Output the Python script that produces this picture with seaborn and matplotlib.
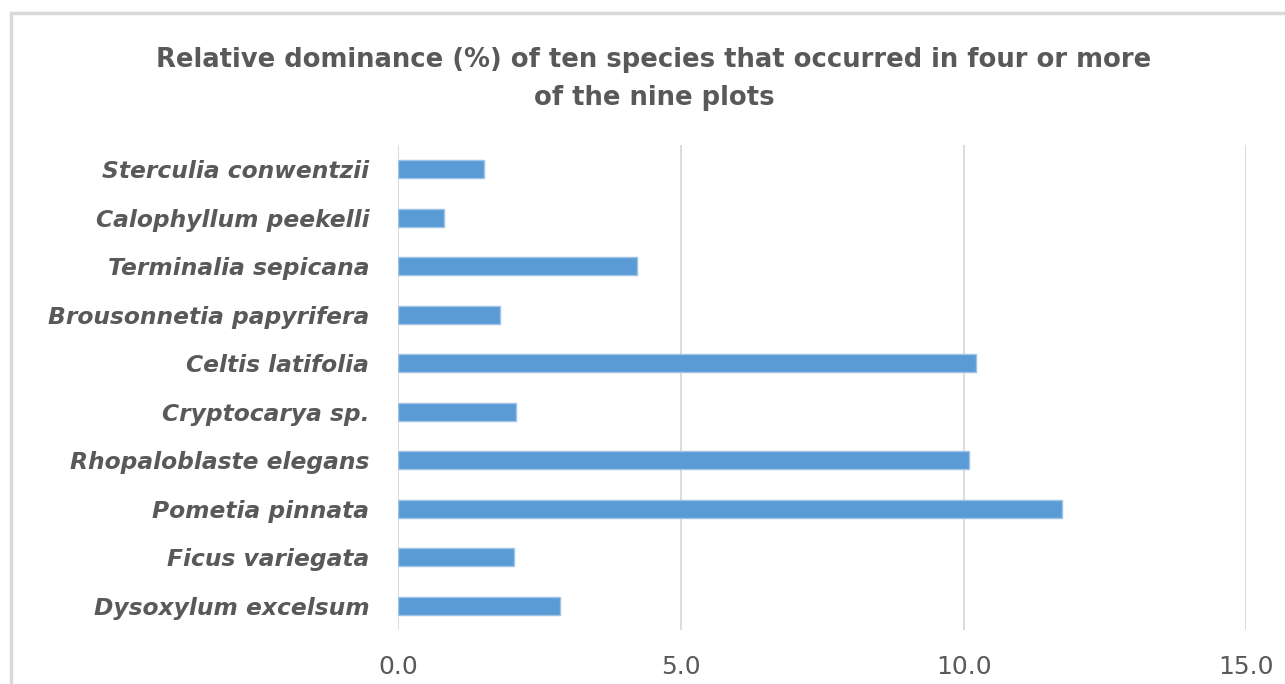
import numpy as np
import pandas as pd
import matplotlib
matplotlib.use("Agg")
import matplotlib.pyplot as plt
from matplotlib.patches import Rectangle
import seaborn as sns

# species listed top to bottom as in the chart
species = ["Sterculia conwentzii", "Calophyllum peekelli", "Terminalia sepicana",
           "Brousonnetia papyrifera", "Celtis latifolia", "Cryptocarya sp.",
           "Rhopaloblaste elegans", "Pometia pinnata", "Ficus variegata",
           "Dysoxylum excelsum"]
dominance = [1.52, 0.81, 4.22, 1.80, 10.21, 2.08, 10.09, 11.73, 2.05, 2.86]
xticks = [0.0, 5.0, 10.0, 15.0]

df = pd.DataFrame({"species": species, "dominance": dominance})

sns.set_style("white")
plt.rcParams['font.family'] = ['DejaVu Sans']

fig = plt.figure(figsize=(12.85, 6.84), dpi=100)
ax = fig.add_axes([0.310, 0.079, 0.660, 0.709])

sns.barplot(data=df, x="dominance", y="species", orient="h", color="#5B9BD5",
            width=0.37, edgecolor="#9DC3E6", linewidth=1, saturation=1, ax=ax)

ax.set_xlim(0, 15)
ax.set_xticks(xticks)
ax.set_xticklabels([f"{t:.1f}" for t in xticks], fontsize=18, color="#595959")
ax.tick_params(axis="x", length=0, pad=18)
ax.tick_params(axis="y", length=0, pad=21)
for lab in ax.get_yticklabels():
    lab.set_fontsize(16.8)
    lab.set_fontweight("bold")
    lab.set_fontstyle("italic")
    lab.set_color("#595959")
ax.xaxis.grid(True, color="#D9D9D9", linewidth=1.3)
ax.set_axisbelow(True)
for s in ax.spines.values():
    s.set_visible(False)
ax.set_xlabel("")
ax.set_ylabel("")

fig.text(0.509, 0.885, "Relative dominance (%) of ten species that occurred in four or more\nof the nine plots",
         ha="center", va="center", fontsize=18.6, fontweight="bold", color="#595959",
         linespacing=1.6)

# chart frame (cut off at right and bottom)
fig.patches.append(Rectangle((11 / 1285, -0.1), 1.2, 1 - 13 / 684 + 0.1,
                             transform=fig.transFigure, fill=False,
                             edgecolor="#D9D9D9", linewidth=2.5))

fig.savefig("out.png", dpi=100, facecolor="white")
